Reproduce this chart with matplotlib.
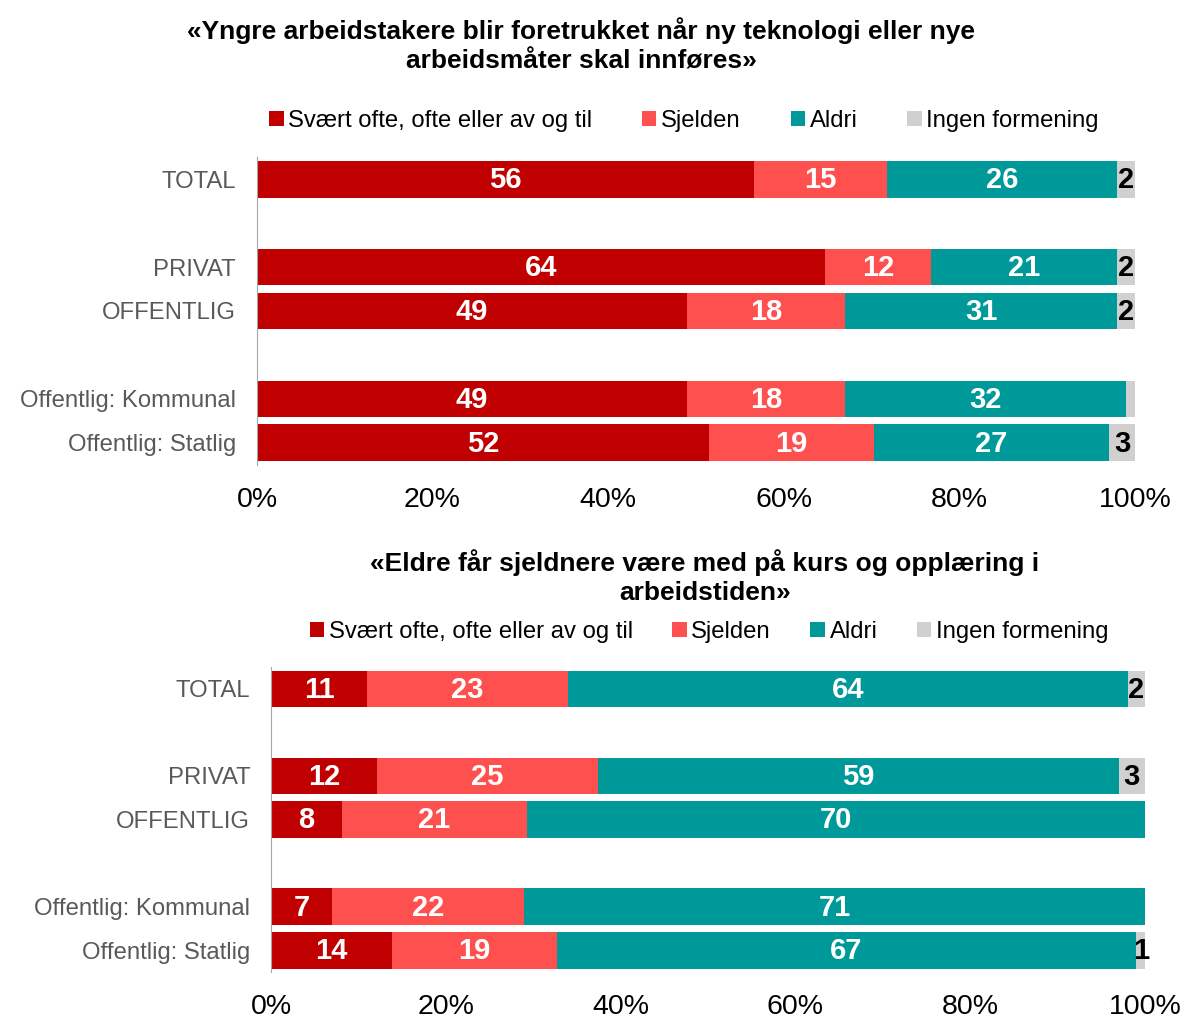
import matplotlib
matplotlib.use('Agg')
import matplotlib.pyplot as plt
import numpy as np

plt.rcParams['font.family'] = ['Liberation Sans', 'DejaVu Sans']

categories = ['TOTAL', 'PRIVAT', 'OFFENTLIG', 'Offentlig: Kommunal', 'Offentlig: Statlig']
series_names = ['Svært ofte, ofte eller av og til', 'Sjelden', 'Aldri', 'Ingen formening']

title_top = '«Yngre arbeidstakere blir foretrukket når ny teknologi eller nye\narbeidsmåter skal innføres»'
top_often = [56, 64, 49, 49, 52]
top_rarely = [15, 12, 18, 18, 19]
top_never = [26, 21, 31, 32, 27]
top_none = [2, 2, 2, 1, 3]
top_none_labels = ['2', '2', '2', '', '3']

title_bottom = '«Eldre får sjeldnere være med på kurs og opplæring i\narbeidstiden»'
bot_often = [11, 12, 8, 7, 14]
bot_rarely = [23, 25, 21, 22, 19]
bot_never = [64, 59, 70, 71, 67]
bot_none = [2, 3, 0, 0, 1]
bot_none_labels = ['2', '3', '', '', '1']

colors = ['#C00000', '#FF5050', '#009999', '#D0D0D0']
text_colors = ['white', 'white', 'white', 'black']
ypos = [0, 2, 3, 5, 6]


def draw_panel(ax, series, none_labels, title, title_xy, legend_xy, colspacing):
    data = np.array(series, dtype=float)
    shares = data / data.sum(axis=0) * 100
    left = np.zeros(len(categories))
    for i, name in enumerate(series_names):
        ax.barh(ypos, shares[i], left=left, height=0.84, color=colors[i], label=name)
        if i < 3:
            labels = [f'{v:.0f}' for v in data[i]]
        else:
            labels = none_labels
        for y, lab, w, l in zip(ypos, labels, shares[i], left):
            if lab:
                ax.text(l + w / 2, y + 0.02, lab, ha='center', va='center',
                        color=text_colors[i], fontsize=21, fontweight='bold')
        left += shares[i]
    ax.set_xlim(0, 100)
    ax.set_ylim(6.5, -0.5)
    ax.set_yticks(ypos)
    ax.set_yticklabels(categories, fontsize=17.2, color='#595959')
    ax.set_xticks(range(0, 101, 20))
    ax.set_xticklabels([f'{v}%' for v in range(0, 101, 20)], fontsize=20.5)
    ax.tick_params(axis='both', length=0)
    ax.tick_params(axis='y', pad=15)
    ax.tick_params(axis='x', pad=16)
    for s in ['top', 'right', 'bottom']:
        ax.spines[s].set_visible(False)
    ax.spines['left'].set_color('#A6A6A6')
    ax.figure.text(title_xy[0], title_xy[1], title, ha='center', va='center',
                   fontsize=19, fontweight='bold', linespacing=1.3)
    ax.legend(loc='center', bbox_to_anchor=legend_xy, bbox_transform=ax.figure.transFigure,
              ncol=4, frameon=False, fontsize=17.2, handlelength=0.6, handleheight=0.6,
              handletextpad=0.2, columnspacing=colspacing, borderaxespad=0)


fig = plt.figure(figsize=(11.83, 10.19), dpi=100)
ax1 = fig.add_axes([0.2172, 0.5437, 0.7422, 0.3022])
ax2 = fig.add_axes([0.2291, 0.0461, 0.7388, 0.2993])

draw_panel(ax1, [top_often, top_rarely, top_never, top_none], top_none_labels, title_top,
           (581 / 1183, 1 - 45 / 1019), (684 / 1183, 1 - 121 / 1019), 2.08)
draw_panel(ax2, [bot_often, bot_rarely, bot_never, bot_none], bot_none_labels, title_bottom,
           (705 / 1183, 1 - 577 / 1019), (709 / 1183, 1 - 632 / 1019), 1.65)

fig.savefig('out.png', dpi=100)
